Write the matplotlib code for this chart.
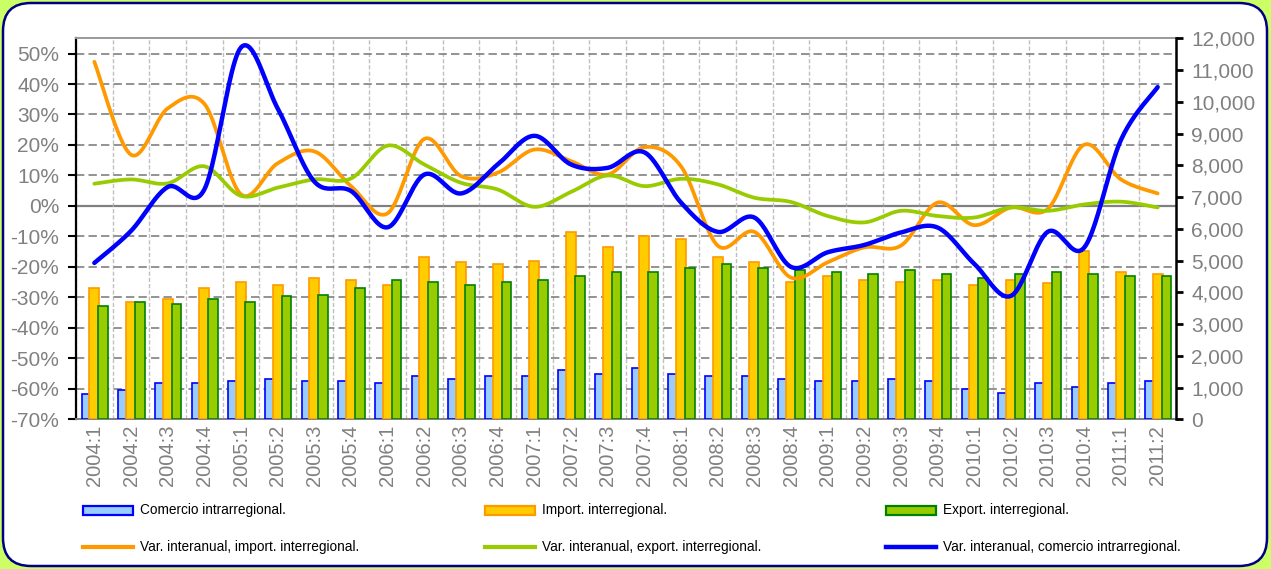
import numpy as np
import matplotlib
matplotlib.use('Agg')
import matplotlib.pyplot as plt
from matplotlib.patches import FancyBboxPatch, Rectangle
from matplotlib.lines import Line2D
from matplotlib.ticker import FuncFormatter

plt.rcParams['font.family'] = ['Liberation Sans', 'DejaVu Sans']

# datos
quarters = ['2004:1', '2004:2', '2004:3', '2004:4', '2005:1', '2005:2', '2005:3', '2005:4',
            '2006:1', '2006:2', '2006:3', '2006:4', '2007:1', '2007:2', '2007:3', '2007:4',
            '2008:1', '2008:2', '2008:3', '2008:4', '2009:1', '2009:2', '2009:3', '2009:4',
            '2010:1', '2010:2', '2010:3', '2010:4', '2011:1', '2011:2']

comercio_intra = [790, 920, 1140, 1140, 1200, 1260, 1200, 1200, 1140, 1370, 1260, 1370, 1370, 1560, 1440,
                  1620, 1440, 1370, 1370, 1260, 1200, 1200, 1260, 1200, 960, 840, 1140, 1030, 1140, 1200]
import_inter = [4150, 3680, 3790, 4150, 4330, 4220, 4460, 4390, 4220, 5120, 4940, 4880, 4990, 5900, 5420,
                5780, 5670, 5120, 4940, 4330, 4520, 4390, 4330, 4390, 4220, 4390, 4280, 5310, 4640, 4570]
export_inter = [3570, 3680, 3620, 3790, 3680, 3870, 3920, 4150, 4390, 4330, 4220, 4330, 4390, 4510, 4640,
                4640, 4750, 4880, 4750, 4700, 4640, 4570, 4700, 4570, 4460, 4570, 4640, 4570, 4520, 4520]

var_import = [47.3, 16.8, 32.0, 33.5, 3.8, 14.0, 17.9, 6.5, -2.4, 22.0, 9.8, 10.9, 18.5, 14.7, 10.3,
              19.3, 13.0, -13.0, -8.5, -23.5, -18.5, -13.6, -13.0, 1.1, -6.3, -0.5, -1.0, 20.1, 8.7, 4.1]
var_export = [7.3, 8.7, 7.4, 13.0, 3.3, 6.0, 8.7, 9.0, 19.8, 13.6, 7.6, 5.4, -0.3, 4.6, 10.0,
              6.5, 8.9, 7.1, 2.7, 1.3, -3.3, -5.4, -1.6, -3.3, -3.8, -0.5, -1.6, 0.5, 1.4, -0.5]
var_intra = [-18.7, -8.2, 6.2, 5.4, 52.0, 32.0, 8.0, 4.9, -7.0, 10.3, 4.1, 13.6, 23.0, 13.6, 12.5,
             17.6, 1.1, -8.5, -3.8, -20.0, -15.2, -12.8, -8.7, -7.1, -19.0, -29.5, -8.5, -13.6, 21.7, 39.0]


def smooth(xs, ys, n=24):
    # curva suavizada tipo Catmull-Rom (como las lineas suavizadas de Excel)
    p = np.column_stack([xs, ys]).astype(float)
    ext = np.vstack([p[0], p, p[-1]])
    t = np.linspace(0, 1, n, endpoint=False)[:, None]
    h00 = 2 * t**3 - 3 * t**2 + 1
    h10 = t**3 - 2 * t**2 + t
    h01 = -2 * t**3 + 3 * t**2
    h11 = t**3 - t**2
    out = []
    for i in range(len(p) - 1):
        p0, p1, p2, p3 = ext[i], ext[i + 1], ext[i + 2], ext[i + 3]
        m1 = (p2 - p0) / 2
        m2 = (p3 - p1) / 2
        out.append(h00 * p1 + h10 * m1 + h01 * p2 + h11 * m2)
    out.append(p[-1][None, :])
    out = np.vstack(out)
    return out[:, 0], out[:, 1]


W, H = 1271, 569
fig = plt.figure(figsize=(W / 100, H / 100), dpi=100)
fig.patch.set_facecolor('#ccff66')
box = FancyBboxPatch((0.03, 0.03), 12.64, 5.63, boxstyle='round,pad=0,rounding_size=0.28',
                     transform=fig.dpi_scale_trans, fc='white', ec='#000080', lw=1.8, zorder=-10)
fig.patches.append(box)

grey = '#808080'
x = np.arange(len(quarters))

# eje de porcentajes (rejilla)
ax = fig.add_axes([76 / W, (H - 419.3) / H, 1100 / W, 381 / H])
ax.set_facecolor('white')
ax.set_xlim(-0.5, len(quarters) - 0.5)
ax.set_ylim(-70, 55)
ax.set_yticks(np.arange(-70, 51, 10))
ax.yaxis.set_major_formatter(FuncFormatter(lambda v, p: '%d%%' % v))
ax.set_xticks(x)
ax.set_xticklabels(quarters, rotation=90, fontsize=14.5, color=grey)
ax.set_xticks(np.arange(-0.5, len(quarters), 1), minor=True)
ax.tick_params(axis='x', which='both', length=0, pad=4)
ax.tick_params(axis='y', which='major', labelsize=15, labelcolor=grey, color='black',
               length=6, width=1.5, direction='out', pad=6)
ax.grid(axis='y', which='major', color=grey, ls=(0, (5, 2.5)), lw=1.2)
ax.grid(axis='x', which='minor', color='#c0c0c0', ls=(0, (3, 1.5)), lw=1.0)
ax.axhline(0, color=grey, lw=1.6, zorder=1)
ax.spines['left'].set_color('black')
ax.spines['left'].set_linewidth(1.6)
ax.spines['right'].set_visible(False)
ax.spines['top'].set_color('#999999')
ax.spines['top'].set_linewidth(1.4)
ax.spines['bottom'].set_color(grey)
ax.spines['bottom'].set_linewidth(1.4)

# barras (eje derecho)
axb = ax.twinx()
axb.set_ylim(0, 12000)
axb.set_yticks(np.arange(0, 12001, 1000))
axb.yaxis.set_major_formatter(FuncFormatter(lambda v, p: '{:,.0f}'.format(v)))
axb.tick_params(axis='y', labelsize=15, labelcolor=grey, color='black', length=5, width=2, pad=6)
for s in ['left', 'top', 'bottom']:
    axb.spines[s].set_visible(False)
axb.spines['right'].set_color('black')
axb.spines['right'].set_linewidth(1.8)

bw = 0.27
axb.bar(x - 0.21, comercio_intra, bw, fc='#99ccff', ec='#0000ff', lw=1.2, zorder=2)
axb.bar(x + 0.0, import_inter, bw, fc='#ffcc00', ec='#ff9900', lw=1.2, zorder=3)
axb.bar(x + 0.24, export_inter, bw, fc='#99cc00', ec='#008000', lw=1.2, zorder=4)

# lineas de variacion (eje izquierdo, por encima de las barras)
axl = ax.twinx()
axl.set_ylim(-70, 55)
axl.set_yticks([])
for s in axl.spines.values():
    s.set_visible(False)
axl.patch.set_visible(False)

sx, sy = smooth(x, var_import)
axl.plot(sx, sy, color='#ff9900', lw=2.7, solid_capstyle='round', zorder=3)
sx, sy = smooth(x, var_export)
axl.plot(sx, sy, color='#99cc00', lw=2.7, solid_capstyle='round', zorder=4)
sx, sy = smooth(x, var_intra)
axl.plot(sx, sy, color='#0000ff', lw=3.2, solid_capstyle='round', zorder=5)


# leyenda manual (dos filas, tres columnas)
def fx(px):
    return px / W


def fy(py):
    return 1 - py / H


def legend_bar(px, py, fc, ec, label):
    fig.patches.append(Rectangle((fx(px), fy(py + 4.5)), 50 / W, 9 / H, transform=fig.transFigure,
                                 fc=fc, ec=ec, lw=1.6))
    fig.text(fx(px + 57), fy(py), label, fontsize=9.8, va='center', ha='left')


def legend_line(px, py, color, lw, label):
    fig.lines.append(Line2D([fx(px), fx(px + 50)], [fy(py), fy(py)], transform=fig.transFigure,
                            color=color, lw=lw))
    fig.text(fx(px + 57), fy(py), label, fontsize=9.8, va='center', ha='left')


legend_bar(83, 510, '#99ccff', '#0000ff', 'Comercio intrarregional.')
legend_bar(485, 510, '#ffcc00', '#ff9900', 'Import. interregional.')
legend_bar(886, 510, '#99cc00', '#008000', 'Export. interregional.')
legend_line(83, 547, '#ff9900', 3, 'Var. interanual, import. interregional.')
legend_line(485, 547, '#99cc00', 3, 'Var. interanual, export. interregional.')
legend_line(886, 547, '#0000ff', 3.2, 'Var. interanual, comercio intrarregional.')

fig.savefig('out.png', dpi=100, facecolor=fig.get_facecolor())
